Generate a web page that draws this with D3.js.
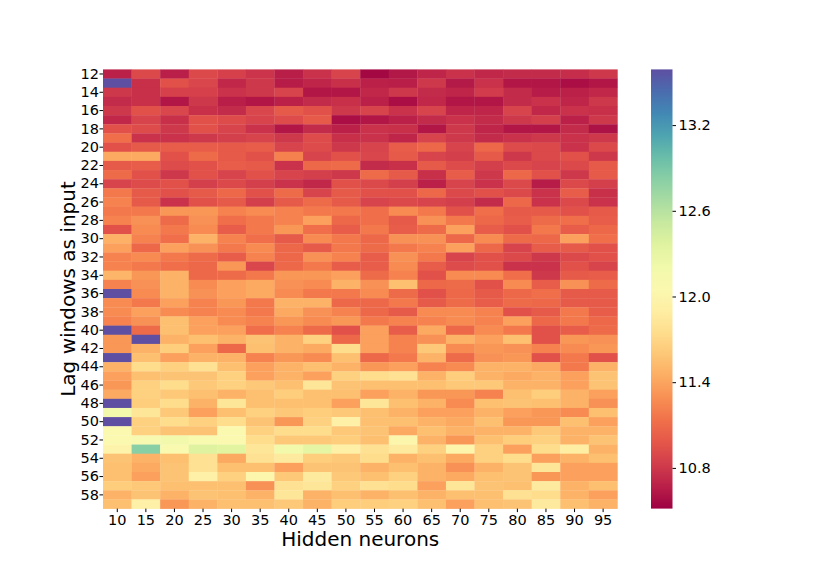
<!DOCTYPE html>
<html>
<head>
<meta charset="utf-8">
<script src="https://cdn.jsdelivr.net/npm/d3@7"></script>
<style>
  body { margin: 0; background: #fff; }
  text { font-family: "DejaVu Sans", sans-serif; }
  .tick text { font-size: 14.5px; fill: #000; }
  .tick line { stroke: #000; }
</style>
</head>
<body>
<div id="chart"></div>
<script>
const lags = d3.range(12, 60);
const neurons = d3.range(10, 100, 5);
const lagTicks = d3.range(12, 60, 2);
const colorTicks = [10.8, 11.4, 12.0, 12.6, 13.2];
const colorMin = 10.515,
  colorMax = 13.59;

// rows = lag 12..59, columns = hidden neurons 10..95
const errors = [
  [10.68, 10.9, 10.67, 10.9, 10.85, 10.78, 10.66, 10.77, 10.87, 10.55, 10.63, 10.7, 10.77, 10.71, 10.73, 10.73, 10.74, 10.8],
  [13.6, 10.76, 10.95, 10.88, 10.71, 10.8, 10.65, 10.7, 10.76, 10.68, 10.66, 10.8, 10.64, 10.77, 10.62, 10.62, 10.58, 10.62],
  [10.8, 10.76, 10.85, 10.85, 10.77, 10.8, 10.87, 10.62, 10.62, 10.71, 10.8, 10.73, 10.7, 10.82, 10.73, 10.65, 10.68, 10.71],
  [10.73, 10.76, 10.62, 10.8, 10.66, 10.62, 10.68, 10.73, 10.76, 10.68, 10.58, 10.71, 10.62, 10.62, 10.73, 10.77, 10.7, 10.8],
  [10.8, 10.95, 10.88, 10.76, 10.73, 10.88, 11.0, 10.95, 10.8, 10.87, 10.77, 10.87, 10.7, 10.7, 10.87, 10.71, 10.77, 10.76],
  [10.71, 10.87, 10.76, 10.95, 10.92, 10.87, 10.92, 11.0, 10.58, 10.62, 10.68, 10.73, 10.77, 10.73, 10.8, 10.84, 10.68, 10.8],
  [10.95, 10.92, 10.8, 10.95, 10.87, 10.77, 10.62, 10.73, 10.68, 10.77, 10.76, 10.62, 10.8, 10.7, 10.62, 10.62, 10.73, 10.6],
  [11.12, 10.77, 10.77, 10.8, 10.84, 10.87, 10.8, 10.92, 10.76, 10.77, 10.7, 10.87, 10.8, 10.73, 10.77, 10.8, 10.77, 10.8],
  [10.95, 11.0, 11.02, 11.02, 11.0, 11.02, 10.87, 10.92, 10.8, 10.87, 11.02, 11.08, 10.87, 11.08, 10.92, 10.9, 10.77, 10.9],
  [11.43, 11.43, 10.95, 11.1, 11.0, 10.95, 11.22, 10.87, 10.95, 10.88, 11.0, 10.87, 10.84, 11.0, 10.8, 10.9, 10.95, 10.8],
  [11.0, 11.02, 10.92, 10.95, 11.02, 11.0, 10.77, 11.08, 11.1, 10.73, 10.76, 11.0, 10.92, 10.84, 10.9, 10.87, 10.9, 11.0],
  [11.1, 10.95, 10.8, 10.95, 10.87, 10.95, 10.87, 10.84, 10.8, 11.1, 11.0, 10.76, 11.02, 10.8, 11.08, 10.95, 10.8, 11.0],
  [10.87, 10.92, 10.95, 10.84, 10.9, 10.84, 10.77, 10.71, 10.95, 10.9, 10.84, 10.68, 10.87, 10.77, 10.9, 10.65, 10.9, 10.84],
  [11.18, 11.0, 10.95, 11.0, 11.08, 10.95, 11.1, 10.87, 11.0, 10.95, 10.95, 11.08, 10.9, 10.95, 10.9, 10.77, 11.02, 10.76],
  [11.23, 11.0, 10.77, 10.95, 11.0, 10.84, 11.0, 11.1, 11.0, 10.87, 10.9, 10.87, 10.84, 10.73, 11.08, 10.77, 10.9, 10.77],
  [11.18, 11.18, 11.33, 11.33, 11.23, 11.27, 11.23, 11.18, 11.18, 11.12, 11.27, 11.18, 10.95, 11.12, 11.0, 11.0, 10.95, 11.0],
  [11.23, 11.3, 11.1, 11.3, 11.12, 11.18, 11.23, 11.38, 11.08, 11.12, 11.0, 11.3, 11.18, 11.08, 11.02, 11.1, 11.12, 11.02],
  [10.95, 11.27, 11.18, 11.27, 11.02, 11.18, 11.33, 11.12, 11.02, 11.18, 11.02, 11.1, 11.38, 11.02, 10.95, 11.18, 11.02, 11.08],
  [11.47, 11.23, 11.12, 11.48, 11.23, 11.12, 11.0, 11.27, 11.18, 11.08, 11.3, 11.3, 11.08, 11.27, 11.1, 11.08, 11.38, 11.12],
  [11.38, 11.08, 11.38, 11.3, 11.18, 11.27, 11.08, 11.0, 11.18, 11.1, 11.18, 11.23, 11.38, 11.08, 10.87, 11.02, 11.0, 10.95],
  [11.23, 11.27, 11.18, 11.1, 11.02, 11.23, 11.08, 11.3, 11.23, 11.02, 11.3, 11.18, 10.87, 10.95, 10.9, 10.8, 10.9, 10.95],
  [11.23, 11.18, 11.12, 11.08, 11.33, 10.88, 11.08, 11.18, 11.02, 11.02, 11.27, 11.02, 10.92, 10.95, 10.77, 10.77, 10.95, 10.87],
  [11.49, 11.33, 11.48, 11.08, 11.1, 11.18, 11.33, 11.33, 11.38, 11.1, 11.23, 10.95, 11.27, 11.27, 11.12, 10.8, 11.0, 11.02],
  [11.23, 11.3, 11.48, 11.27, 11.38, 11.43, 11.3, 11.27, 11.48, 11.3, 11.55, 11.08, 11.1, 10.95, 11.27, 11.02, 11.3, 11.1],
  [13.6, 11.27, 11.48, 11.3, 11.38, 11.43, 11.27, 11.18, 11.18, 11.27, 11.1, 10.95, 11.08, 11.0, 11.08, 11.12, 11.0, 11.0],
  [11.27, 11.18, 11.38, 11.23, 11.33, 11.18, 11.48, 11.48, 11.08, 11.08, 11.18, 11.0, 11.1, 11.02, 11.1, 11.08, 11.0, 11.0],
  [11.27, 11.38, 11.27, 11.23, 11.27, 11.18, 11.43, 11.3, 11.23, 11.08, 11.0, 11.27, 11.27, 11.23, 10.95, 11.0, 11.18, 11.02],
  [11.23, 11.3, 11.55, 11.38, 11.27, 11.23, 11.33, 11.27, 11.33, 11.18, 11.23, 11.23, 11.27, 11.23, 11.38, 11.08, 11.18, 11.08],
  [13.6, 11.1, 11.55, 11.38, 11.38, 11.12, 11.23, 11.1, 10.95, 11.38, 11.02, 11.43, 11.08, 11.27, 11.18, 10.95, 11.02, 11.1],
  [11.33, 13.6, 11.48, 11.55, 11.48, 11.57, 11.48, 11.66, 11.08, 11.38, 11.23, 11.3, 11.48, 11.38, 11.55, 10.95, 11.33, 11.3],
  [11.33, 11.48, 11.64, 11.38, 11.08, 11.55, 11.48, 11.43, 11.75, 11.38, 11.23, 11.6, 11.27, 11.33, 11.3, 11.23, 11.27, 11.33],
  [13.6, 11.55, 11.38, 11.48, 11.48, 11.23, 11.33, 11.27, 11.55, 11.08, 11.18, 11.48, 11.1, 11.3, 11.33, 10.95, 11.18, 10.95],
  [11.48, 11.75, 11.66, 11.78, 11.55, 11.38, 11.48, 11.55, 11.48, 11.33, 11.38, 11.23, 11.27, 11.48, 11.48, 11.43, 11.18, 11.48],
  [11.38, 11.55, 11.57, 11.57, 11.66, 11.38, 11.48, 11.38, 11.66, 11.75, 11.78, 11.48, 11.64, 11.48, 11.43, 11.48, 11.38, 11.57],
  [11.33, 11.66, 11.75, 11.6, 11.66, 11.6, 11.55, 11.82, 11.57, 11.55, 11.55, 11.55, 11.6, 11.6, 11.48, 11.48, 11.38, 11.57],
  [11.43, 11.66, 11.6, 11.55, 11.48, 11.55, 11.64, 11.55, 11.55, 11.38, 11.48, 11.33, 11.33, 11.23, 11.55, 11.64, 11.48, 11.38],
  [13.6, 11.64, 11.75, 11.48, 11.82, 11.55, 11.55, 11.55, 11.38, 11.82, 11.55, 11.48, 11.27, 11.55, 11.57, 11.55, 11.48, 11.3],
  [12.18, 11.82, 11.6, 11.38, 11.55, 11.66, 11.6, 11.64, 11.6, 11.55, 11.48, 11.38, 11.38, 11.48, 11.38, 11.33, 11.27, 11.55],
  [13.6, 11.66, 11.75, 11.66, 11.75, 11.57, 11.33, 11.66, 11.92, 11.55, 11.55, 11.48, 11.43, 11.55, 11.33, 11.33, 11.55, 11.38],
  [12.04, 11.66, 11.57, 11.57, 12.04, 11.66, 11.75, 11.75, 11.6, 11.57, 11.43, 11.55, 11.48, 11.48, 11.48, 11.6, 11.48, 11.48],
  [12.05, 12.1, 12.18, 12.12, 12.05, 11.75, 11.6, 11.6, 11.64, 11.55, 12.0, 11.48, 11.33, 11.55, 11.64, 11.66, 11.48, 11.57],
  [11.96, 12.82, 12.08, 12.38, 12.34, 11.82, 12.2, 12.32, 11.92, 11.78, 11.86, 11.66, 11.98, 11.66, 11.38, 11.75, 11.9, 11.48],
  [11.57, 11.48, 11.55, 11.78, 11.43, 11.78, 11.86, 11.64, 11.6, 11.75, 11.48, 11.55, 11.43, 11.66, 11.75, 11.38, 11.48, 11.55],
  [11.55, 11.43, 11.57, 11.78, 11.55, 11.55, 11.38, 11.57, 11.57, 11.48, 11.55, 11.48, 11.3, 11.48, 11.57, 11.82, 11.38, 11.38],
  [11.55, 11.38, 11.57, 11.92, 11.66, 12.0, 11.6, 11.86, 11.6, 11.55, 11.66, 11.48, 11.43, 11.55, 11.57, 11.33, 11.38, 11.38],
  [11.64, 11.6, 11.55, 11.55, 11.55, 11.3, 11.78, 11.82, 11.66, 11.78, 11.75, 11.38, 11.82, 11.57, 11.55, 11.86, 11.48, 11.55],
  [11.48, 11.57, 11.48, 11.57, 11.55, 11.48, 11.82, 11.48, 11.55, 11.48, 11.55, 11.48, 11.55, 11.55, 11.78, 11.75, 11.48, 11.38],
  [11.55, 11.92, 11.33, 11.48, 11.55, 11.55, 11.6, 11.48, 11.64, 11.64, 11.66, 11.55, 11.38, 11.55, 11.57, 11.86, 11.55, 11.48],
];

const width = 830,
  height = 581;
const margin = { left: 103, top: 69.4 };
const plotW = 514.4,
  plotH = 439.2;

const svg = d3
  .select("#chart")
  .append("svg")
  .attr("width", width)
  .attr("height", height);

const x = d3.scaleBand().domain(neurons).range([margin.left, margin.left + plotW]);
const y = d3.scaleBand().domain(lags).range([margin.top, margin.top + plotH]);

const color = d3
  .scaleSequential(d3.interpolateSpectral)
  .domain([colorMin, colorMax])
  .clamp(true);

const cells = [];
errors.forEach((row, i) => {
  row.forEach((v, j) => cells.push({ lag: lags[i], n: neurons[j], v: v }));
});

svg
  .append("g")
  .selectAll("rect")
  .data(cells)
  .enter()
  .append("rect")
  .attr("x", (d) => x(d.n))
  .attr("y", (d) => y(d.lag))
  .attr("width", x.bandwidth() + 0.3)
  .attr("height", y.bandwidth() + 0.3)
  .attr("fill", (d) => color(d.v));

// axes
const xAxis = svg
  .append("g")
  .attr("transform", `translate(0,${margin.top + plotH})`)
  .call(d3.axisBottom(x).tickSize(3.5).tickPadding(2.5));
xAxis.select(".domain").remove();

const yAxis = svg
  .append("g")
  .attr("transform", `translate(${margin.left},0)`)
  .call(d3.axisLeft(y).tickValues(lagTicks).tickSize(3.5).tickPadding(0.5));
yAxis.select(".domain").remove();

svg
  .append("text")
  .attr("x", margin.left + plotW / 2)
  .attr("y", 546)
  .attr("text-anchor", "middle")
  .style("font-size", "20px")
  .text("Hidden neurons");

svg
  .append("text")
  .attr("transform", `translate(75,${margin.top + plotH / 2}) rotate(-90)`)
  .attr("text-anchor", "middle")
  .style("font-size", "20px")
  .text("Lag windows as input");

// colorbar
const cbX = 651,
  cbW = 21.5;
const cbScale = d3
  .scaleLinear()
  .domain([colorMin, colorMax])
  .range([margin.top + plotH, margin.top]);

const defs = svg.append("defs");
const grad = defs
  .append("linearGradient")
  .attr("id", "cbar")
  .attr("x1", 0)
  .attr("y1", 1)
  .attr("x2", 0)
  .attr("y2", 0);
d3.range(0, 1.0001, 0.05).forEach((t) => {
  grad
    .append("stop")
    .attr("offset", t)
    .attr("stop-color", d3.interpolateSpectral(t));
});

svg
  .append("rect")
  .attr("x", cbX)
  .attr("y", margin.top)
  .attr("width", cbW)
  .attr("height", plotH)
  .attr("fill", "url(#cbar)");

const cbAxis = svg
  .append("g")
  .attr("transform", `translate(${cbX + cbW},0)`)
  .call(
    d3
      .axisRight(cbScale)
      .tickValues(colorTicks)
      .tickFormat(d3.format(".1f"))
      .tickSize(3.5)
      .tickPadding(2.5)
  );
cbAxis.select(".domain").remove();
</script>
</body>
</html>
